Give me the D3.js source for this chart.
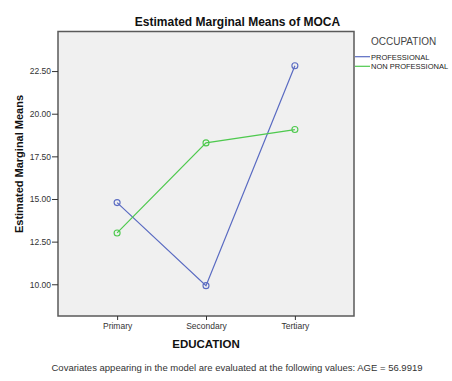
<!DOCTYPE html>
<html><head><meta charset="utf-8">
<script src="https://cdn.jsdelivr.net/npm/d3@7"></script>
<style>body{margin:0;background:#fff}svg{display:block}text{font-family:Arial,"Liberation Sans",sans-serif}</style>
</head><body>
<svg id="c" width="452" height="381"></svg>
<script>
const categories = ["Primary", "Secondary", "Tertiary"];
const professional = [14.79, 9.92, 22.81];
const nonProfessional = [13.01, 18.29, 19.07];
const seriesNames = ["PROFESSIONAL", "NON PROFESSIONAL"];
const yTicks = [10, 12.5, 15, 17.5, 20, 22.5];

const svg = d3.select("#c");
const L = 58, R = 354, T = 31.5, B = 316;
const x = d3.scalePoint().domain(categories).range([L, R]).padding(0.665);
const y = d3.scaleLinear().domain([8.14, 24.82]).range([B, T]);
const colors = ["#5a6bc2", "#4ec94e"];
const series = [professional, nonProfessional];

svg.append("rect").attr("x", L).attr("y", T).attr("width", R - L).attr("height", B - T)
  .attr("fill", "#f0f0f0").attr("stroke", "#5a5a5a").attr("stroke-width", 1.5);

const yAxis = svg.append("g").attr("transform", `translate(${L},0)`)
  .call(d3.axisLeft(y).tickValues(yTicks).tickFormat(d3.format(".2f")).tickSize(6).tickPadding(1));
yAxis.select(".domain").remove();
yAxis.selectAll("line").attr("stroke", "#333");
yAxis.selectAll("text").attr("font-size", 8.5).attr("fill", "#333").attr("font-family", "Arial,'Liberation Sans',sans-serif");

const xAxis = svg.append("g").attr("transform", `translate(0,${B})`)
  .call(d3.axisBottom(x).tickSize(4).tickPadding(3));
xAxis.select(".domain").remove();
xAxis.selectAll("line").attr("stroke", "#333");
xAxis.selectAll("text").attr("font-size", 8.5).attr("fill", "#333").attr("font-family", "Arial,'Liberation Sans',sans-serif");

const line = d3.line().x((d, i) => x(categories[i])).y(d => y(d));
series.forEach((s, k) => {
  svg.append("path").datum(s).attr("d", line).attr("fill", "none")
    .attr("stroke", colors[k]).attr("stroke-width", 1.2);
  svg.selectAll(null).data(s).enter().append("circle")
    .attr("cx", (d, i) => x(categories[i])).attr("cy", d => y(d)).attr("r", 3)
    .attr("fill", "none").attr("stroke", colors[k]).attr("stroke-width", 1.1);
});

svg.append("text").attr("x", 237.5).attr("y", 26).attr("text-anchor", "middle")
  .attr("font-size", 12).attr("font-weight", "bold").attr("fill", "#111").text("Estimated Marginal Means of MOCA");

svg.append("text").attr("transform", "translate(23,164) rotate(-90)").attr("text-anchor", "middle")
  .attr("font-size", 11).attr("font-weight", "bold").attr("fill", "#111").text("Estimated Marginal Means");

svg.append("text").attr("x", 206).attr("y", 348).attr("text-anchor", "middle")
  .attr("font-size", 11.5).attr("font-weight", "bold").attr("fill", "#111").text("EDUCATION");

svg.append("text").attr("x", 237).attr("y", 371).attr("text-anchor", "middle")
  .attr("font-size", 9.5).attr("fill", "#333").text("Covariates appearing in the model are evaluated at the following values: AGE = 56.9919");

svg.append("text").attr("x", 371).attr("y", 45).attr("font-size", 10).attr("fill", "#444").text("OCCUPATION");
seriesNames.forEach((n, k) => {
  const yy = 56.7 + k * 9.6;
  svg.append("line").attr("x1", 355).attr("x2", 370).attr("y1", yy).attr("y2", yy)
    .attr("stroke", colors[k]).attr("stroke-width", 1.2);
  svg.append("text").attr("x", 371).attr("y", yy + 3).attr("font-size", 7.5).attr("fill", "#222").text(n);
});
</script>
</body></html>
